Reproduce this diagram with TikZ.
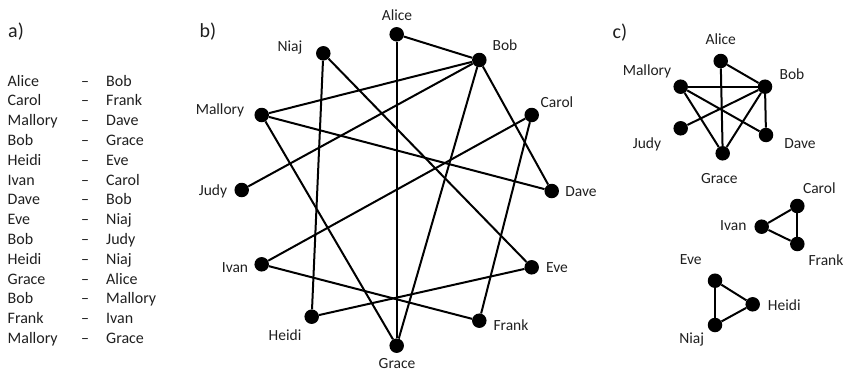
\documentclass[tikz,border=0pt]{standalone}
\usepackage{fontspec}
\setmainfont{Carlito}
\begin{document}
\begin{tikzpicture}[x=1pt,y=-1pt,
  vtx/.style={circle,fill=black,inner sep=0pt,minimum size=14.5pt},
  lbl/.style={inner sep=0pt,font=\fontsize{15.5}{18}\selectfont,text=black!88},
  lst/.style={inner sep=0pt,anchor=base west,font=\fontsize{16}{19}\selectfont,text=black!88},
  dsh/.style={inner sep=0pt,anchor=base,font=\fontsize{16}{19}\selectfont,text=black!88},
  ttl/.style={inner sep=0pt,font=\fontsize{20}{24}\selectfont,text=black!88},
  edge/.style={line width=2pt,black}]
\useasboundingbox (0,0) rectangle (851,372);
% ---- a)
\node[ttl] (ta) at (16,32) {a)};
\foreach \l/\r [count=\i from 0] in {Alice/Bob,Carol/Frank,Mallory/Dave,Bob/Grace,Heidi/Eve,Ivan/Carol,Dave/Bob,Eve/Niaj,Bob/Judy,Heidi/Niaj,Grace/Alice,Bob/Mallory,Frank/Ivan,Mallory/Grace}{
  \node[lst] (al\i) at (7.5,{86+19.8*\i}) {\l};
  \node[dsh] (ad\i) at (85,{86+19.8*\i}) {--};
  \node[lst] (ar\i) at (106,{86+19.8*\i}) {\r};
}
% ---- b)
\node[ttl] (tb) at (208,32) {b)};
\node[vtx] (bAlice) at (396.7,34.3) {};
\node[vtx] (bNiaj) at (323.3,53.3) {};
\node[vtx] (bBob) at (479.3,60) {};
\node[vtx] (bMallory) at (261.7,115) {};
\node[vtx] (bCarol) at (531.7,115) {};
\node[vtx] (bJudy) at (241.7,190) {};
\node[vtx] (bDave) at (551.7,191) {};
\node[vtx] (bIvan) at (261.7,264.3) {};
\node[vtx] (bEve) at (531.7,267.3) {};
\node[vtx] (bHeidi) at (311.7,316.7) {};
\node[vtx] (bFrank) at (479.3,320.7) {};
\node[vtx] (bGrace) at (396.7,345.7) {};
\node[lbl] (lbAlice) at (397,15) {Alice};
\node[lbl] (lbNiaj) at (290,47) {Niaj};
\node[lbl] (lbBob) at (505,45) {Bob};
\node[lbl] (lbMallory) at (220,110) {Mallory};
\node[lbl] (lbCarol) at (557,102) {Carol};
\node[lbl] (lbJudy) at (213,191) {Judy};
\node[lbl] (lbDave) at (581,191.7) {Dave};
\node[lbl] (lbIvan) at (235,268) {Ivan};
\node[lbl] (lbEve) at (557,268) {Eve};
\node[lbl] (lbHeidi) at (285,335) {Heidi};
\node[lbl] (lbFrank) at (511,325) {Frank};
\node[lbl] (lbGrace) at (397,364) {Grace};
\foreach \a/\b in {Alice/Bob,Carol/Frank,Mallory/Dave,Bob/Grace,Heidi/Eve,Ivan/Carol,Dave/Bob,Eve/Niaj,Bob/Judy,Heidi/Niaj,Grace/Alice,Bob/Mallory,Frank/Ivan,Mallory/Grace}
  \draw[edge] (b\a) -- (b\b);
% ---- c)
\node[ttl] (tc) at (620,33) {c)};
\node[vtx] (cAlice) at (720.7,61) {};
\node[vtx] (cMallory) at (680.7,86.7) {};
\node[vtx] (cBob) at (765,86.7) {};
\node[vtx] (cJudy) at (680.7,128.3) {};
\node[vtx] (cDave) at (766,135) {};
\node[vtx] (cGrace) at (722.7,153.3) {};
\node[vtx] (cCarol) at (797.3,206) {};
\node[vtx] (cIvan) at (761.7,226.7) {};
\node[vtx] (cFrank) at (797.3,244) {};
\node[vtx] (cEve) at (715,280.7) {};
\node[vtx] (cHeidi) at (752.7,304.3) {};
\node[vtx] (cNiaj) at (715,325) {};
\node[lbl] (lcAlice) at (720.7,39) {Alice};
\node[lbl] (lcMallory) at (647,71) {Mallory};
\node[lbl] (lcBob) at (792,74) {Bob};
\node[lbl] (lcJudy) at (647,144) {Judy};
\node[lbl] (lcDave) at (800,143.3) {Dave};
\node[lbl] (lcGrace) at (719.3,178.3) {Grace};
\node[lbl] (lcCarol) at (819.3,188.3) {Carol};
\node[lbl] (lcIvan) at (733.3,226) {Ivan};
\node[lbl] (lcFrank) at (826,260) {Frank};
\node[lbl] (lcEve) at (690.7,259.3) {Eve};
\node[lbl] (lcHeidi) at (784.3,305) {Heidi};
\node[lbl] (lcNiaj) at (691.7,339.3) {Niaj};
\foreach \a/\b in {Alice/Bob,Mallory/Dave,Bob/Grace,Dave/Bob,Bob/Judy,Grace/Alice,Bob/Mallory,Mallory/Grace,Carol/Frank,Ivan/Carol,Frank/Ivan,Heidi/Eve,Eve/Niaj,Heidi/Niaj}
  \draw[edge] (c\a) -- (c\b);
\end{tikzpicture}
\end{document}
